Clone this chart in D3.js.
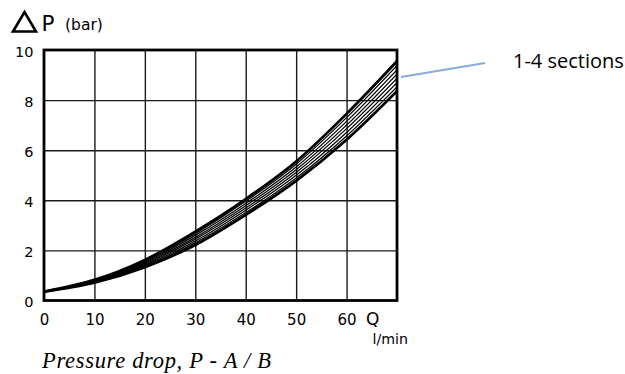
<!DOCTYPE html>
<html>
<head>
<meta charset="utf-8">
<script src="https://cdn.jsdelivr.net/npm/d3@7"></script>
<style>
  body { margin: 0; background: #fff; }
  svg { display: block; }
</style>
</head>
<body>
<svg id="chart" width="625" height="374"></svg>
<script>
// flow Q in l/min
const flowQ = [0, 10, 20, 30, 40, 50, 60, 70];

// pressure drop curves (bar), top to bottom of the band
const curve1 = [0.35, 0.82, 1.62, 2.75, 4.05, 5.55, 7.45, 9.55];
const curve2 = [0.35, 0.80, 1.57, 2.67, 3.96, 5.44, 7.30, 9.38];
const curve3 = [0.35, 0.79, 1.53, 2.60, 3.87, 5.33, 7.15, 9.21];
const curve4 = [0.35, 0.77, 1.49, 2.52, 3.78, 5.22, 7.00, 9.04];
const curve5 = [0.35, 0.76, 1.45, 2.45, 3.69, 5.11, 6.86, 8.87];
const curve6 = [0.35, 0.74, 1.41, 2.37, 3.60, 5.00, 6.71, 8.70];
const curve7 = [0.35, 0.73, 1.37, 2.30, 3.51, 4.89, 6.57, 8.53];
const curve8 = [0.35, 0.71, 1.33, 2.22, 3.42, 4.78, 6.42, 8.36];

const xTicks = [0, 10, 20, 30, 40, 50, 60];
const yTicks = [0, 2, 4, 6, 8, 10];
const xGrid = [10, 20, 30, 40, 50, 60];
const yGrid = [2, 4, 6, 8];

const curves = [curve1, curve2, curve3, curve4, curve5, curve6, curve7, curve8];

const sansFont = '"DejaVu Sans", Verdana, sans-serif';

const svg = d3.select('#chart');

const xScale = d3.scaleLinear().domain([0, 70]).range([44, 397]);
const yScale = d3.scaleLinear().domain([0, 10]).range([300.5, 50]);

// grid
const grid = svg.append('g').attr('id', 'grid');
grid.append('g')
  .attr('transform', `translate(0,${yScale(0)})`)
  .call(d3.axisBottom(xScale).tickValues(xGrid).tickSize(-(yScale(0) - yScale(10))).tickFormat(''))
  .call(g => g.select('.domain').remove())
  .call(g => g.selectAll('line').attr('stroke', '#1a1a1a').attr('stroke-width', 1.4));
grid.append('g')
  .attr('transform', `translate(${xScale(0)},0)`)
  .call(d3.axisLeft(yScale).tickValues(yGrid).tickSize(-(xScale(70) - xScale(0))).tickFormat(''))
  .call(g => g.select('.domain').remove())
  .call(g => g.selectAll('line').attr('stroke', '#1a1a1a').attr('stroke-width', 1.4));

// curves
svg.append('clipPath').attr('id', 'plot-clip')
  .append('rect')
  .attr('x', xScale(0)).attr('y', yScale(10))
  .attr('width', xScale(70) - xScale(0)).attr('height', yScale(0) - yScale(10));

const line = d3.line()
  .x((d, i) => xScale(flowQ[i]))
  .y(d => yScale(d))
  .curve(d3.curveMonotoneX);

svg.append('g')
  .attr('id', 'curves')
  .attr('clip-path', 'url(#plot-clip)')
  .selectAll('path')
  .data(curves)
  .join('path')
  .attr('d', line)
  .attr('fill', 'none')
  .attr('stroke', '#000')
  .attr('stroke-width', (d, i) => (i === 0 || i === curves.length - 1) ? 2.8 : 1.25);

// frame
svg.append('rect')
  .attr('x', xScale(0)).attr('y', yScale(10))
  .attr('width', xScale(70) - xScale(0)).attr('height', yScale(0) - yScale(10))
  .attr('fill', 'none').attr('stroke', '#000').attr('stroke-width', 2.8);

// tick labels
svg.append('g')
  .attr('id', 'x-axis')
  .attr('transform', `translate(0,${yScale(0)})`)
  .call(d3.axisBottom(xScale).tickValues(xTicks).tickSize(0).tickPadding(14))
  .call(g => g.select('.domain').remove())
  .call(g => g.attr('font-family', sansFont).attr('font-size', 15))
  .call(g => g.selectAll('text').attr('fill', '#000'));

svg.append('g')
  .attr('id', 'y-axis')
  .attr('transform', `translate(${xScale(0)},0)`)
  .call(d3.axisLeft(yScale).tickValues(yTicks).tickSize(0).tickPadding(10.5))
  .call(g => g.select('.domain').remove())
  .call(g => g.attr('font-family', sansFont).attr('font-size', 14.5))
  .call(g => g.selectAll('text').attr('fill', '#000').attr('dy', '0.44em'));

// axis titles
svg.append('path')
  .attr('d', 'M13,31.5 L24.5,12 L36,31.5 Z')
  .attr('fill', 'none').attr('stroke', '#000').attr('stroke-width', 2.6)
  .attr('stroke-linejoin', 'miter');
svg.append('text')
  .attr('x', 41.5).attr('y', 31)
  .attr('font-family', sansFont).attr('font-size', 21.5)
  .text('P');
svg.append('text')
  .attr('x', 65).attr('y', 30)
  .attr('font-family', sansFont).attr('font-size', 15.5)
  .text('(bar)');

svg.append('text')
  .attr('x', 366).attr('y', 325)
  .attr('font-family', sansFont).attr('font-size', 17)
  .text('Q');
svg.append('text')
  .attr('x', 372.5).attr('y', 343.5)
  .attr('font-family', sansFont).attr('font-size', 14.2)
  .text('l/min');

// caption
svg.append('text')
  .attr('x', 42).attr('y', 368)
  .attr('font-family', '"Liberation Serif", "DejaVu Serif", serif')
  .attr('font-style', 'italic').attr('font-size', 22.5)
  .attr('textLength', 229).attr('lengthAdjust', 'spacing')
  .text('Pressure drop, P - A / B');

// annotation
svg.append('line')
  .attr('x1', 401).attr('y1', 77).attr('x2', 485).attr('y2', 63)
  .attr('stroke', '#86aedb').attr('stroke-width', 2.2);
svg.append('text')
  .attr('x', 513).attr('y', 67.5)
  .attr('font-family', '"Open Sans", "Noto Sans", sans-serif').attr('font-size', 20)
  .text('1-4 sections');
</script>
</body>
</html>
